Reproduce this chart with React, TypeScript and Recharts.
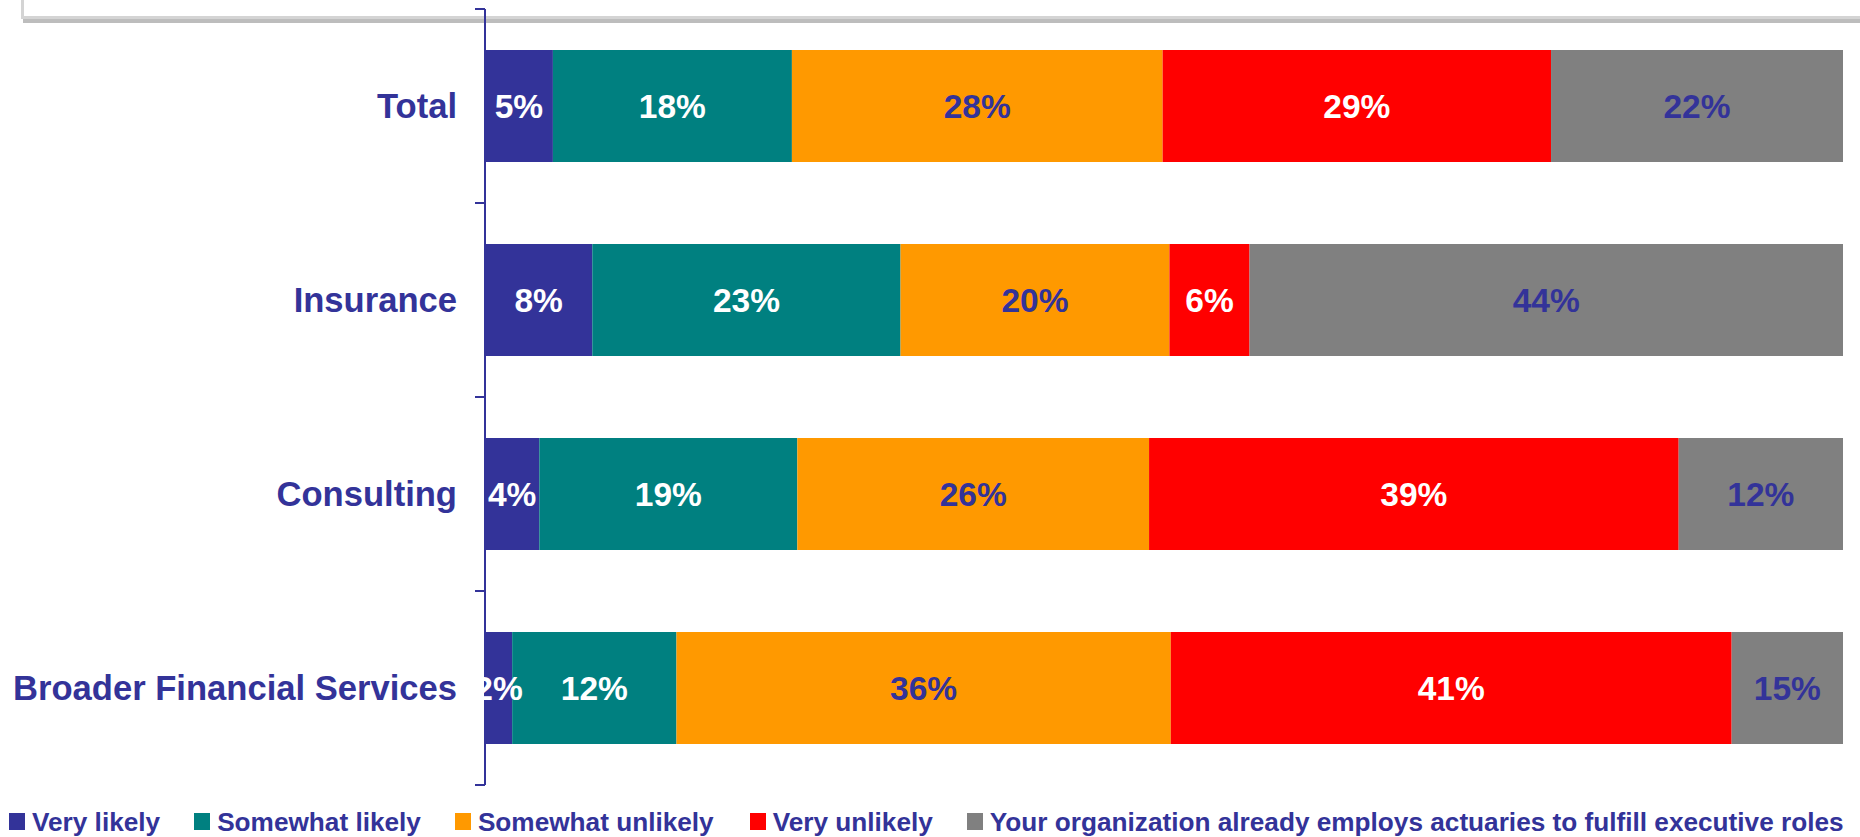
import React from "react";
import { BarChart, Bar, XAxis, YAxis, LabelList } from "recharts";

const categories = ["Total", "Insurance", "Consulting", "Broader Financial Services"];
const seriesNames = [
  "Very likely",
  "Somewhat likely",
  "Somewhat unlikely",
  "Very unlikely",
  "Your organization already employs actuaries to fulfill executive roles",
];
// bar lengths as drawn (share of each row)
const veryLikely = [5.0, 7.9, 4.0, 2.0];
const somewhatLikely = [17.6, 22.7, 19.0, 12.1];
const somewhatUnlikely = [27.3, 19.8, 25.9, 36.4];
const veryUnlikely = [28.6, 5.9, 39.0, 41.3];
const alreadyEmploys = [21.5, 43.7, 12.1, 8.2];
// printed labels
const veryLikelyLabels = ["5%", "8%", "4%", "2%"];
const somewhatLikelyLabels = ["18%", "23%", "19%", "12%"];
const somewhatUnlikelyLabels = ["28%", "20%", "26%", "36%"];
const veryUnlikelyLabels = ["29%", "6%", "39%", "41%"];
const alreadyEmploysLabels = ["22%", "44%", "12%", "15%"];

const COLORS = ["#333399", "#008080", "#FF9900", "#FF0000", "#808080"];
const LABEL_COLORS = ["#FFFFFF", "#FFFFFF", "#333399", "#FFFFFF", "#333399"];
const TEXT_BLUE = "#333399";
const FONT = "'Liberation Sans', Arial, Helvetica, sans-serif";

const data = categories.map((name, i) => ({
  name,
  s0: veryLikely[i],
  s1: somewhatLikely[i],
  s2: somewhatUnlikely[i],
  s3: veryUnlikely[i],
  s4: alreadyEmploys[i],
  l0: veryLikelyLabels[i],
  l1: somewhatLikelyLabels[i],
  l2: somewhatUnlikelyLabels[i],
  l3: veryUnlikelyLabels[i],
  l4: alreadyEmploysLabels[i],
}));

const W = 1860;
const H = 837;
const PLOT_TOP = 9;
const PLOT_BOTTOM = 785;
const AXIS_X = 485;
const HALF_BAND = (PLOT_BOTTOM - PLOT_TOP) / categories.length / 2;
const LEGEND_GAPS = [34, 34, 36, 34, 0];

const CategoryTick = (props: any) => {
  const { x, y, payload, index } = props;
  const last = index === categories.length - 1;
  return (
    <g>
      <line x1={AXIS_X - 10} x2={AXIS_X} y1={y - HALF_BAND} y2={y - HALF_BAND} stroke={TEXT_BLUE} strokeWidth={2} />
      {last && (
        <line x1={AXIS_X - 10} x2={AXIS_X} y1={y + HALF_BAND} y2={y + HALF_BAND} stroke={TEXT_BLUE} strokeWidth={2} />
      )}
      <text
        x={x}
        y={y}
        dy={12}
        textAnchor="end"
        fill={TEXT_BLUE}
        fontFamily={FONT}
        fontWeight="bold"
        fontSize={34.6}
      >
        {payload.value}
      </text>
    </g>
  );
};

export default function App() {
  return (
    <div style={{ position: "absolute", left: 0, top: 0, width: W, height: H, background: "#fff", overflow: "hidden", fontFamily: FONT }}>
      <div
        style={{
          position: "absolute",
          left: 21,
          top: -20,
          width: 1900,
          height: 33,
          border: "3px solid #d4d4d4",
          boxShadow: "2px 4px 0 #bdbdbd",
          background: "#fff",
        }}
      />
      <div style={{ position: "absolute", left: 0, top: 0 }}>
        <BarChart
          layout="vertical"
          width={W}
          height={H}
          data={data}
          margin={{ top: PLOT_TOP, right: W - 1843, bottom: H - PLOT_BOTTOM, left: 0 }}
        >
          <XAxis type="number" domain={[0, 100]} hide />
          <YAxis
            type="category"
            dataKey="name"
            width={AXIS_X}
            axisLine={{ stroke: TEXT_BLUE, strokeWidth: 2 }}
            tickLine={false}
            tickSize={0}
            tickMargin={28}
            tick={<CategoryTick />}
            interval={0}
          />
          {[0, 1, 2, 3, 4].map((k) => (
            <Bar
              key={k}
              dataKey={`s${k}`}
              name={seriesNames[k]}
              stackId="a"
              fill={COLORS[k]}
              barSize={112}
              isAnimationActive={false}
            >
              <LabelList
                dataKey={`l${k}`}
                position="center"
                fill={LABEL_COLORS[k]}
                fontFamily={FONT}
                fontWeight="bold"
                fontSize={33.5}
              />
            </Bar>
          ))}
        </BarChart>
      </div>
      <div
        style={{
          position: "absolute",
          left: 9,
          top: 809,
          display: "flex",
          alignItems: "flex-start",
          whiteSpace: "nowrap",
          fontSize: 26.2,
          lineHeight: "26px",
          fontWeight: "bold",
          color: TEXT_BLUE,
        }}
      >
        {seriesNames.map((n, k) => (
          <div key={n} style={{ display: "flex", alignItems: "flex-start", marginRight: LEGEND_GAPS[k] }}>
            <div style={{ width: 16, height: 17, background: COLORS[k], marginTop: 4, marginRight: 7 }} />
            <span>{n}</span>
          </div>
        ))}
      </div>
    </div>
  );
}
